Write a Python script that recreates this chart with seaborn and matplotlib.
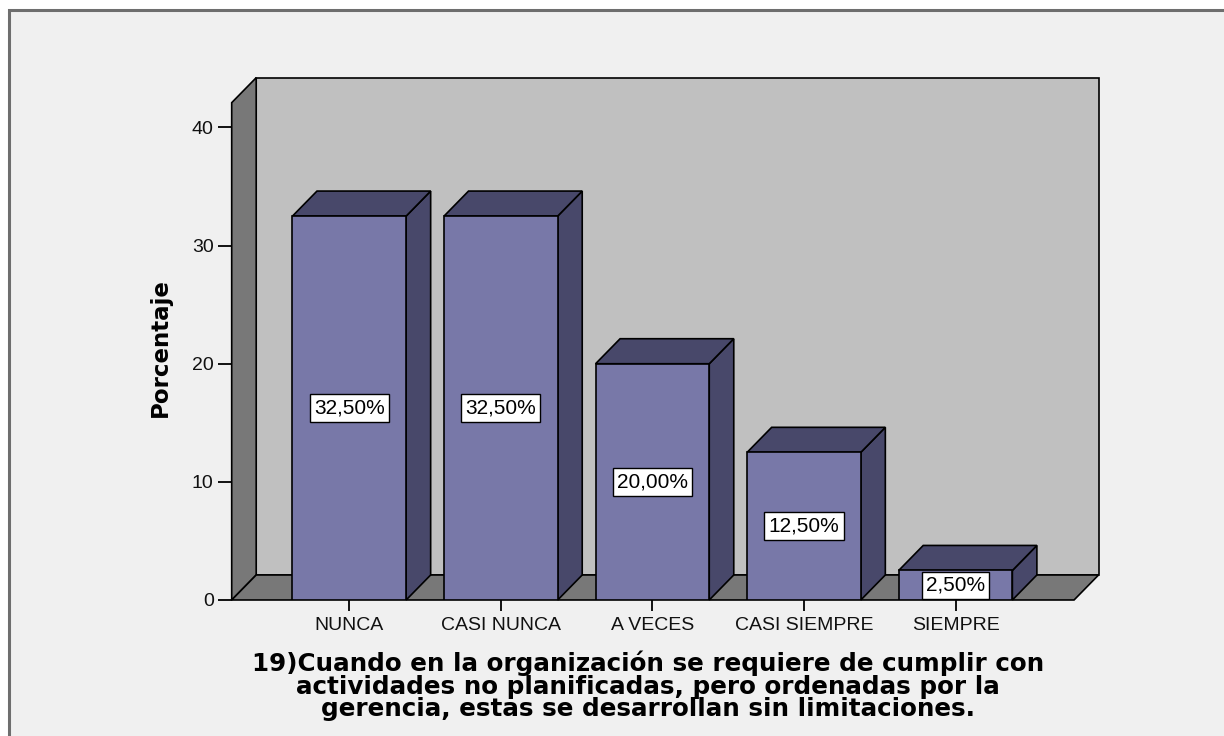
import pandas as pd
import matplotlib
matplotlib.use("Agg")
import matplotlib.pyplot as plt
import seaborn as sns
from matplotlib.patches import Polygon, Rectangle

# data
categories = ["NUNCA", "CASI NUNCA", "A VECES", "CASI SIEMPRE", "SIEMPRE"]
percentages = [32.5, 32.5, 20.0, 12.5, 2.5]
value_labels = ["32,50%", "32,50%", "20,00%", "12,50%", "2,50%"]
y_ticks = [0, 10, 20, 30, 40]
title_text = ("19)Cuando en la organización se requiere de cumplir con\n"
              "actividades no planificadas, pero ordenadas por la\n"
              "gerencia, estas se desarrollan sin limitaciones.")

df = pd.DataFrame({"categoria": categories, "porcentaje": percentages})

FRONT = "#7878a8"
SIDE = "#48486a"
WALL = "#c0c0c0"
FLOOR = "#787878"

sns.set_theme(style="white")
plt.rcParams["font.family"] = ["Liberation Sans", "DejaVu Sans"]
plt.rcParams["text.color"] = "black"

fig = plt.figure(figsize=(12.24, 7.36), dpi=100, facecolor="white")
# light panel with the dark frame on the top and left edge
fig.patches.append(Rectangle((9 / 1224, -0.05), 1.2, 1.05 - 10 / 736,
                             transform=fig.transFigure, fc="#f0f0f0",
                             ec="#6e6e6e", lw=2.2, zorder=-10))

ax = fig.add_axes([0.1893, 0.1848, 0.6882, 0.6757])
ax.set_facecolor("none")

sns.barplot(data=df, x="categoria", y="porcentaje", color=FRONT, saturation=1,
            width=0.75, edgecolor="black", linewidth=1.2, ax=ax, zorder=3)

XMIN, XMAX = -0.776, 4.782
YMAX = 42.1
DX, DY = 0.1617, 2.117  # depth of the 3d box, in data units
ax.set_xlim(XMIN, XMAX)
ax.set_ylim(0, YMAX)

# back wall, left wall and floor
ax.add_patch(Rectangle((XMIN + DX, DY), XMAX - XMIN, YMAX, fc=WALL, ec="black",
                       lw=1.2, zorder=0, clip_on=False))
ax.add_patch(Polygon([(XMIN, 0), (XMIN, YMAX), (XMIN + DX, YMAX + DY), (XMIN + DX, DY)],
                     fc=FLOOR, ec="black", lw=1.2, zorder=1, clip_on=False))
ax.add_patch(Polygon([(XMIN, 0), (XMAX, 0), (XMAX + DX, DY), (XMIN + DX, DY)],
                     fc=FLOOR, ec="black", lw=1.2, zorder=1, clip_on=False))

# side and top faces of every bar, plus the value boxes
bars = [p for p in ax.patches if p.get_zorder() == 3]
for p, lab in zip(bars, value_labels):
    x, w, h = p.get_x(), p.get_width(), p.get_height()
    ax.add_patch(Polygon([(x + w, 0), (x + w, h), (x + w + DX, h + DY), (x + w + DX, DY)],
                         fc=SIDE, ec="black", lw=1.2, zorder=2.9, clip_on=False))
    ax.add_patch(Polygon([(x, h), (x + w, h), (x + w + DX, h + DY), (x + DX, h + DY)],
                         fc=SIDE, ec="black", lw=1.2, zorder=2.9, clip_on=False))
    ax.text(x + w / 2, h / 2, lab, ha="center", va="center", fontsize=15, zorder=5,
            color="black",
            bbox=dict(boxstyle="square,pad=0.2", fc="white", ec="black", lw=1))

for s in ax.spines.values():
    s.set_visible(False)

ax.set_yticks(y_ticks)
ax.tick_params(axis="y", left=True, direction="out", length=10, width=1.3,
               color="black", labelsize=14, pad=3, labelcolor="#111111")
ax.tick_params(axis="x", bottom=True, direction="out", length=8, width=1.3,
               color="black", labelsize=14, pad=4, labelcolor="#111111")
ax.set_xlabel("")
ax.set_ylabel("")

fig.text(160 / 1224, 1 - 348 / 736, "Porcentaje", rotation=90, fontsize=16.5,
         fontweight="bold", family="DejaVu Sans", ha="center", va="center",
         color="black")
fig.text(648 / 1224, 1 - 686 / 736, title_text, ha="center", va="center",
         multialignment="center", fontsize=17.7, fontweight="bold",
         family="DejaVu Sans", linespacing=0.93, color="black")

fig.savefig("out.png", dpi=100, facecolor=fig.get_facecolor())
